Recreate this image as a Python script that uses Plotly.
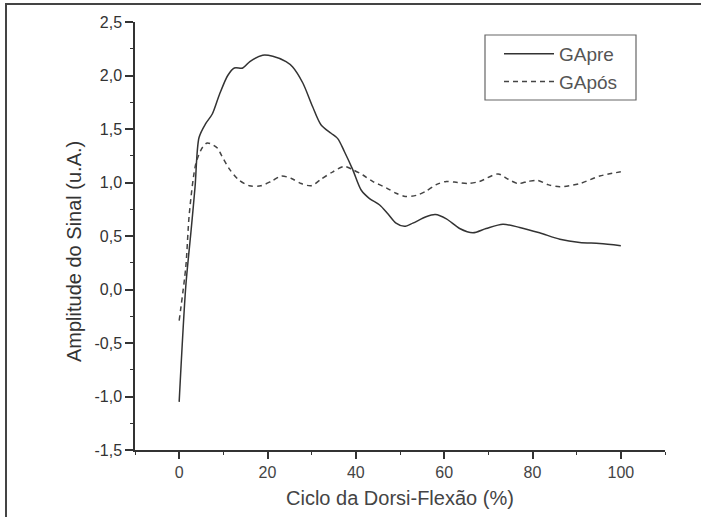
import plotly.graph_objects as go

# GApre (solid)
pre_x = [0, 1.5, 2.65, 3.6, 4.5, 6.0, 7.5, 9.1, 11.0, 12.5, 14.4, 16.0, 18.9, 21.2, 24.2, 25.7,
         28.0, 30.2, 32.1, 34.4, 35.9, 37.4, 39.3, 41.2, 43.1, 45.4, 47.2, 49.1, 51.0, 52.9,
         55.9, 58.0, 60.5, 63.5, 66.5, 69.5, 73.3, 77.1, 81.6, 86.2, 90.7, 95.2, 100]
pre_y = [-1.05, 0.03, 0.53, 0.96, 1.42, 1.55, 1.64, 1.82, 2.00, 2.07, 2.07, 2.13, 2.19, 2.18, 2.13, 2.08,
         1.93, 1.71, 1.54, 1.46, 1.41, 1.29, 1.12, 0.93, 0.85, 0.79, 0.71, 0.62, 0.59, 0.62,
         0.68, 0.70, 0.66, 0.57, 0.53, 0.57, 0.61, 0.58, 0.53, 0.47, 0.44, 0.43, 0.41]

# GApós (dashed)
pos_x = [0, 1.5, 2.3, 3.8, 5.3, 6.4, 8.7, 9.5, 11.3, 13.6, 15.9, 18.5, 20.8, 23.1, 25.3, 27.6,
         29.9, 32.1, 34.8, 37.4, 39.3, 41.6, 43.8, 46.9, 49.1, 51.2, 53.7, 55.9, 58.2, 60.5,
         63.0, 65.4, 68.0, 72.2, 74.5, 76.7, 79.0, 81.2, 83.5, 86.2, 90.7, 95.2, 100]
pos_y = [-0.29, 0.21, 0.71, 1.18, 1.33, 1.37, 1.32, 1.26, 1.13, 1.02, 0.97, 0.97, 1.01, 1.06, 1.04, 0.99,
         0.97, 1.03, 1.10, 1.15, 1.12, 1.07, 1.01, 0.95, 0.90, 0.87, 0.88, 0.92, 0.98, 1.01,
         1.00, 0.99, 1.01, 1.08, 1.03, 0.99, 1.01, 1.02, 0.98, 0.96, 0.99, 1.06, 1.10]

y_ticks = [-1.5, -1.0, -0.5, 0.0, 0.5, 1.0, 1.5, 2.0, 2.5]
y_ticktext = ["-1,5", "-1,0", "-0,5", "0,0", "0,5", "1,0", "1,5", "2,0", "2,5"]
x_ticks = [0, 20, 40, 60, 80, 100]

FONT = "Liberation Sans, Arial, sans-serif"
LINE = "#333333"

fig = go.Figure()
fig.add_trace(go.Scatter(x=pre_x, y=pre_y, mode="lines", name="GApre",
                         line=dict(color=LINE, width=1.5, shape="spline", smoothing=0.8)))
fig.add_trace(go.Scatter(x=pos_x, y=pos_y, mode="lines", name="GApós",
                         line=dict(color="#444444", width=1.5, dash="5px,4px", shape="spline", smoothing=0.8)))

L, R, T, B = 135, 36, 22, 67
W, H = 701, 517
pw, ph = W - L - R, H - T - B

def px(x):
    return (x - L) / pw

def py(y):
    return (H - B - y) / ph

fig.update_layout(
    width=W, height=H,
    margin=dict(l=L, r=R, t=T, b=B),
    paper_bgcolor="white", plot_bgcolor="white",
    font=dict(family=FONT, color="#333333"),
    showlegend=True,
    legend=dict(x=px(499), y=py(35), xanchor="left", yanchor="top",
                bgcolor="rgba(0,0,0,0)", borderwidth=0,
                font=dict(size=19, color="#555555", family=FONT),
                itemwidth=50, tracegroupgap=0),
    xaxis=dict(range=[-10, 110], tickvals=x_ticks, ticks="outside", ticklen=7, tickwidth=1.5,
               tickcolor=LINE, showline=True, linecolor=LINE, linewidth=1.5, showgrid=False,
               zeroline=False, tickfont=dict(size=16, color="#444444"),
               minor=dict(dtick=10, tick0=0, ticks="outside", ticklen=3, tickwidth=1.2, tickcolor=LINE)),
    yaxis=dict(range=[-1.5, 2.5], tickvals=y_ticks, ticktext=y_ticktext, ticks="outside", ticklen=8,
               tickwidth=1.5, tickcolor=LINE, showline=True, linecolor=LINE, linewidth=1.5,
               showgrid=False, zeroline=False, tickfont=dict(size=16, color="#333333"),
               minor=dict(dtick=0.25, tick0=0, ticks="outside", ticklen=3, tickwidth=1.2, tickcolor=LINE)),
    annotations=[
        dict(text="Ciclo da Dorsi-Flexão (%)", xref="paper", yref="paper", x=px(400), y=py(498),
             xanchor="center", yanchor="middle", showarrow=False,
             font=dict(size=20, color="#444444", family=FONT)),
        dict(text="Amplitude do Sinal (u.A.)", xref="paper", yref="paper", x=px(74), y=py(252),
             xanchor="center", yanchor="middle", showarrow=False, textangle=-90,
             font=dict(size=20, color="#333333", family=FONT)),
    ],
    shapes=[
        dict(type="path", xref="paper", yref="paper",
             path=f"M {px(6)} {py(520)} L {px(6)} {py(4)} L {px(705)} {py(4)}",
             line=dict(color="#444444", width=2)),
        dict(type="rect", xref="paper", yref="paper", x0=px(485), x1=px(636), y0=py(35), y1=py(100),
             line=dict(color="#666666", width=1.2)),
    ],
)

fig.write_html("out.html")
